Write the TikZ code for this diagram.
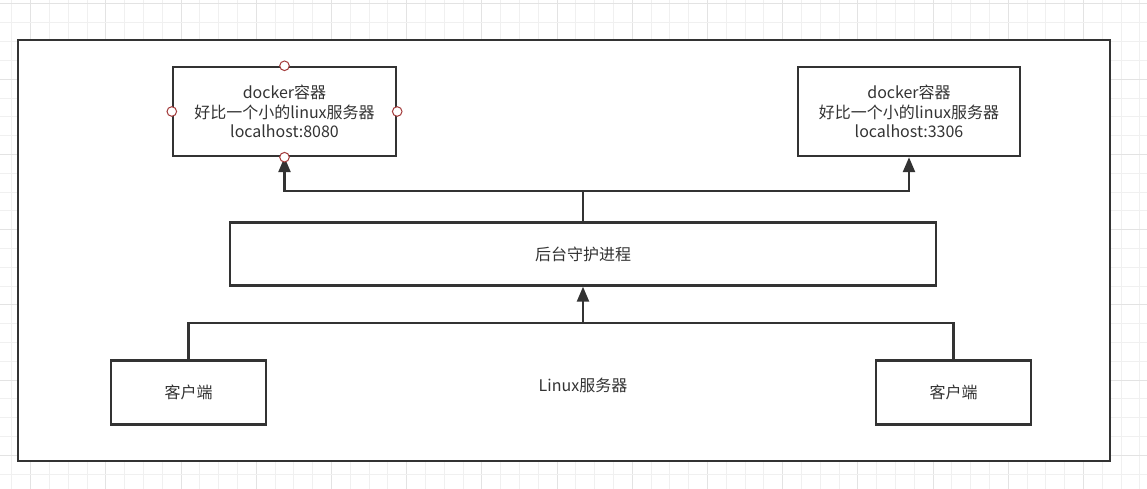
\documentclass[tikz,border=0pt]{standalone}
\usepackage{fontspec}
\setmainfont{Noto Sans CJK SC}
\usetikzlibrary{arrows.meta}
\definecolor{ink}{HTML}{333333}
\definecolor{gridminor}{HTML}{F0F0F0}
\definecolor{gridmajor}{HTML}{E3E3E3}
\definecolor{pin}{HTML}{A33B3B}
\tikzset{
  box/.style={draw=ink,line width=2.4pt,fill=white,text=ink,align=center,
    inner sep=0pt,font=\fontsize{16}{19.5}\selectfont},
  wire/.style={draw=ink,line width=2.4pt},
  arr/.style={wire,-{Triangle[length=15pt,width=12pt]}},
  port/.style={draw=pin,line width=1pt,fill=white},
}
\begin{document}
\begin{tikzpicture}[x=1pt,y=-1pt]
  \useasboundingbox (0,0) rectangle (1147,489);
  % background grid
  \foreach \i in {0,...,61} {
    \pgfmathsetmacro{\gx}{-7+18.8*\i}
    \pgfmathtruncatemacro{\gm}{mod(\i,4)}
    \ifnum\gm=2
      \draw[gridmajor,line width=1pt] (\gx,0) -- (\gx,489);
    \else
      \draw[gridminor,line width=0.8pt] (\gx,0) -- (\gx,489);
    \fi
  }
  \foreach \j in {0,...,26} {
    \pgfmathsetmacro{\gy}{4+18.8*\j}
    \pgfmathtruncatemacro{\gm}{mod(\j,4)}
    \ifnum\gm=0
      \draw[gridmajor,line width=1pt] (0,\gy) -- (1147,\gy);
    \else
      \draw[gridminor,line width=0.8pt] (0,\gy) -- (1147,\gy);
    \fi
  }
  % host
  \node[box,minimum width=1092pt,minimum height=421pt] (host) at (564,250.5) {};
  \node[text=ink,font=\fontsize{16}{19.5}\selectfont] (hostlabel) at (583,385) {Linux服务器};
  % containers
  \node[box,minimum width=223pt,minimum height=89pt] (dock1) at (284.5,111.5)
    {docker容器\\好比一个小的linux服务器\\localhost:8080};
  \node[box,minimum width=222pt,minimum height=89pt] (dock2) at (909,111.5)
    {docker容器\\好比一个小的linux服务器\\localhost:3306};
  % daemon
  \node[box,minimum width=706pt,minimum height=63pt] (daemon) at (583,254) {后台守护进程};
  % clients
  \node[box,minimum width=155pt,minimum height=64pt] (cli1) at (188.5,392.5) {客户端};
  \node[box,minimum width=155pt,minimum height=64pt] (cli2) at (953.5,392.5) {客户端};
  % connectors
  \coordinate (split) at (583,191);
  \coordinate (join) at (583,323);
  \draw[wire] (daemon.north) -- (split);
  \draw[arr] (split) -| (dock1.south);
  \draw[arr] (split) -| (dock2.south);
  \draw[wire] (cli1.north) |- (join);
  \draw[wire] (cli2.north) |- (join);
  \draw[arr] (join) -- (daemon.south);
  % connection points
  \foreach \p in {north,west,east,south}
    \draw[port] (dock1.\p) circle (4.8pt);
\end{tikzpicture}
\end{document}
